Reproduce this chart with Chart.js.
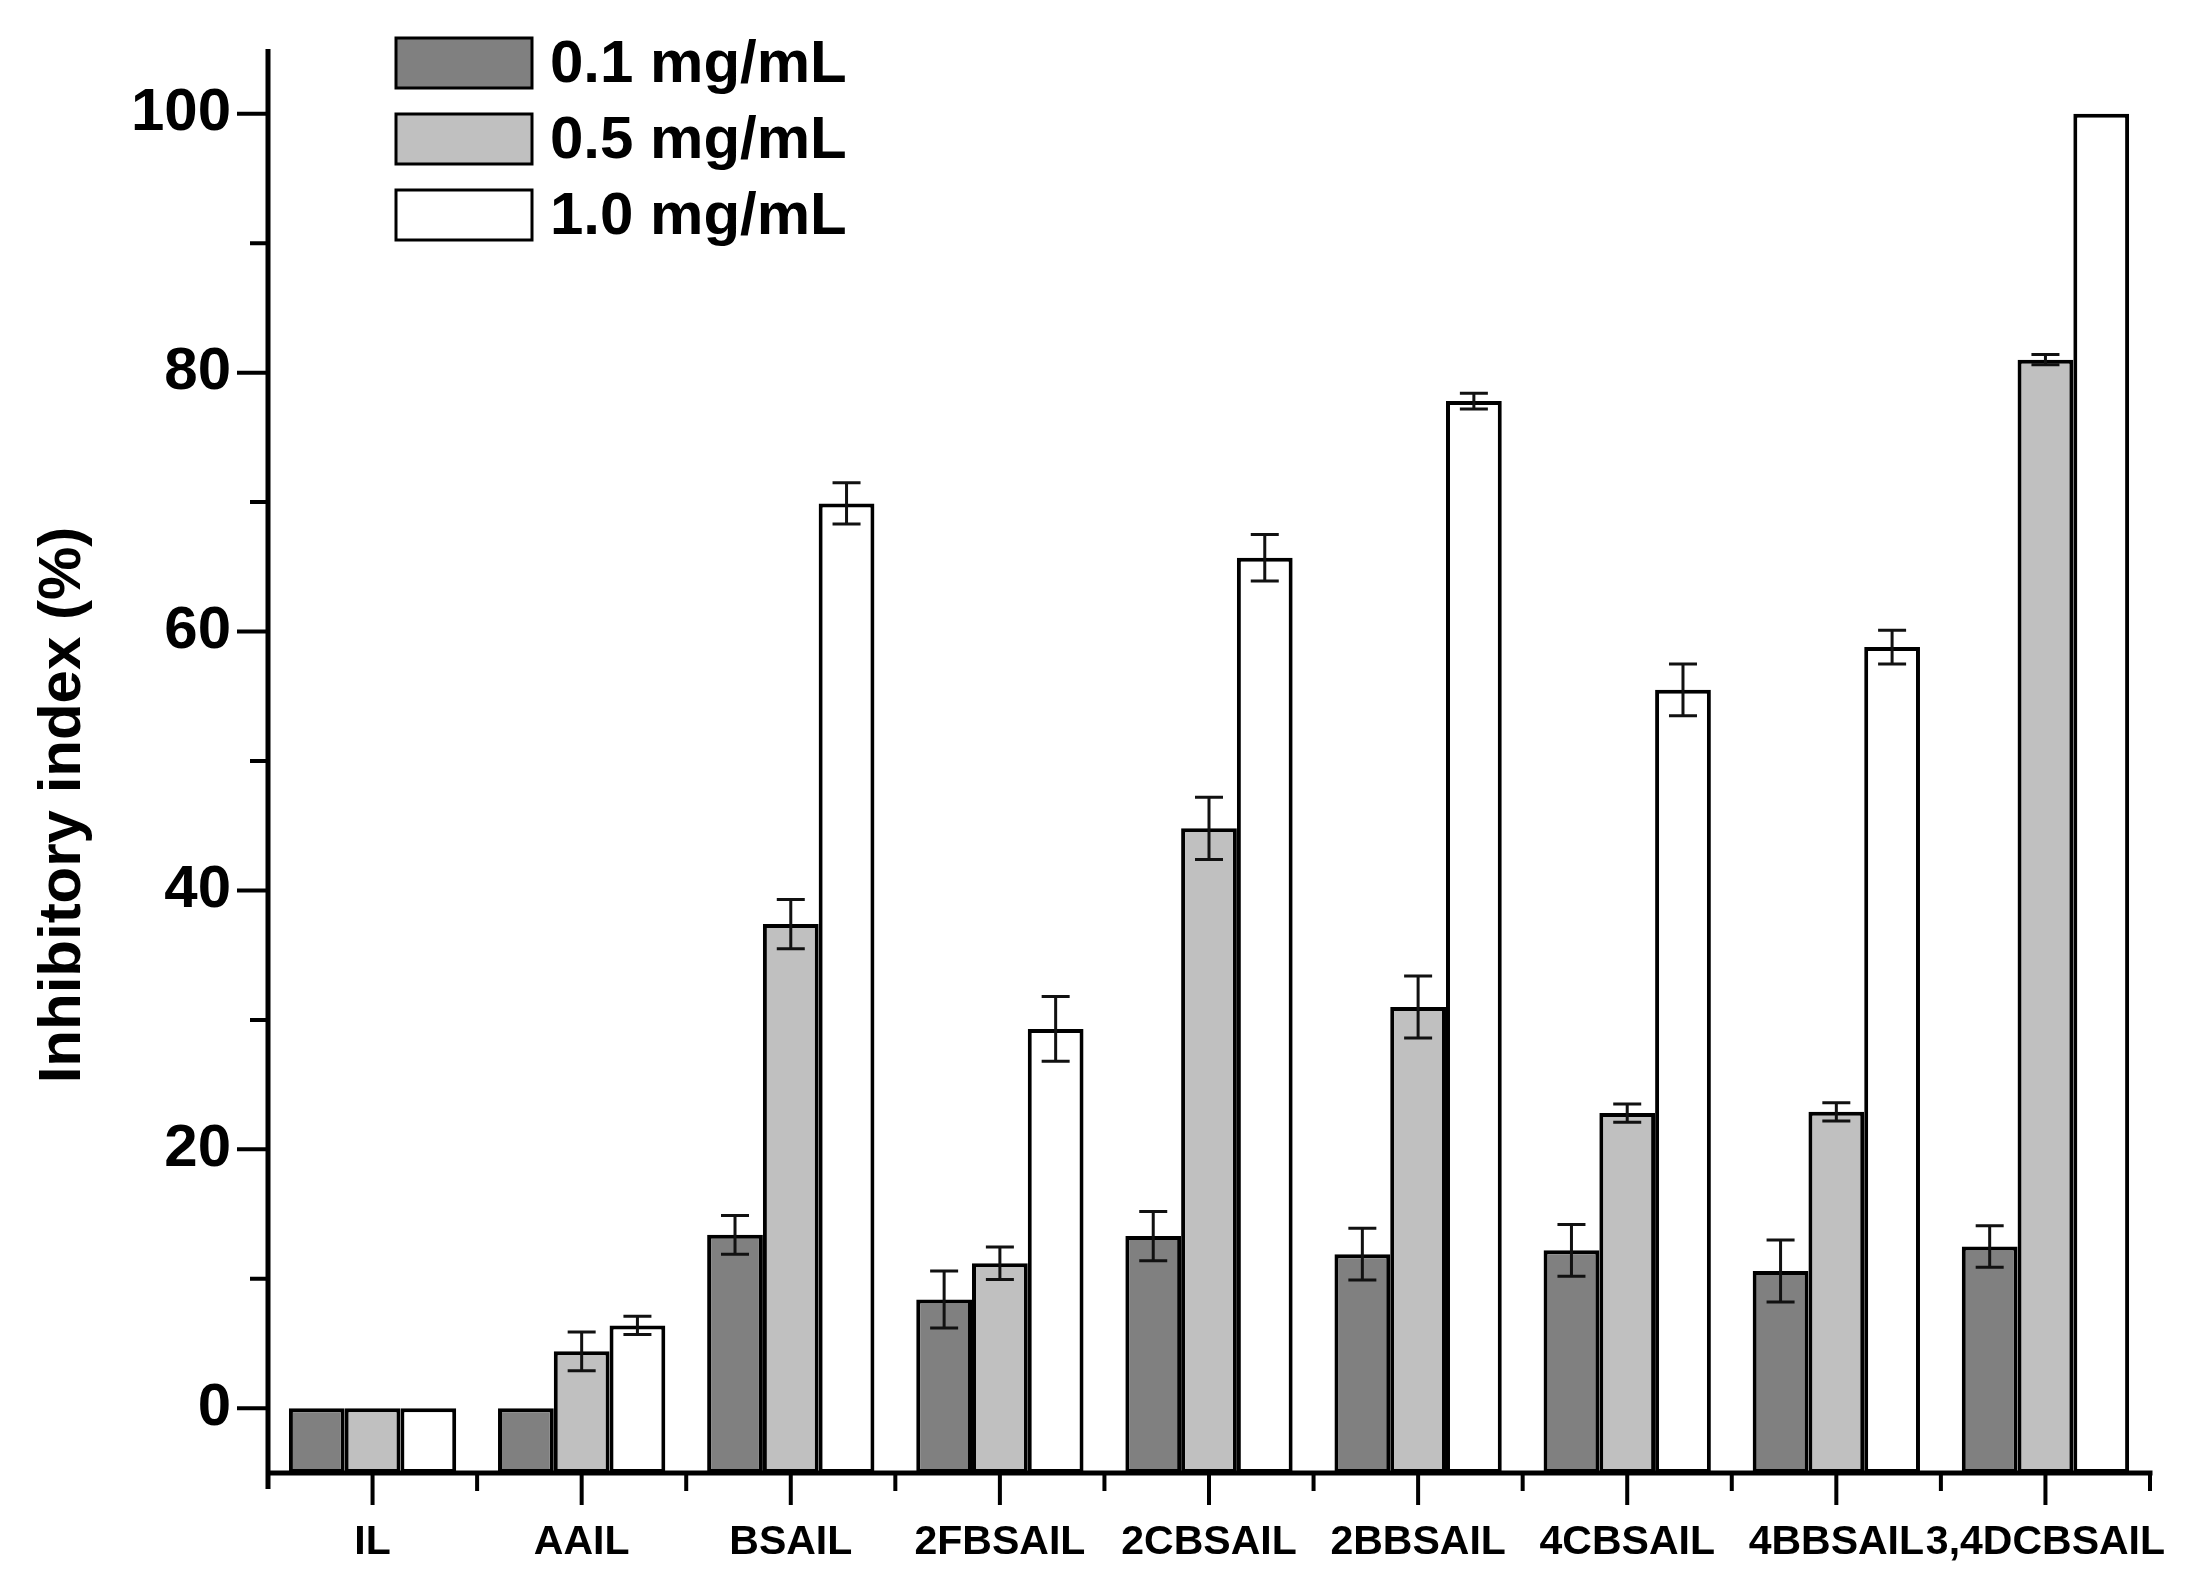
<!DOCTYPE html>
<html>
<head>
<meta charset="utf-8">
<title>Inhibitory index</title>
<script src="https://cdn.jsdelivr.net/npm/chart.js@4.4.1/dist/chart.umd.min.js"></script>
<style>
    html, body { margin: 0; padding: 0; background: #fff; }
    #wrap { width: 2185px; height: 1581px; }
</style>
</head>
<body>
<div id="wrap"><canvas id="chart" width="2185" height="1581"></canvas></div>
<script>
// categories and series
const categories = ['IL', 'AAIL', 'BSAIL', '2FBSAIL', '2CBSAIL', '2BBSAIL', '4CBSAIL', '4BBSAIL', '3,4DCBSAIL'];
const seriesLabels = ['0.1 mg/mL', '0.5 mg/mL', '1.0 mg/mL'];

const values01 = [0, 0, 13.4, 8.4, 13.3, 11.9, 12.2, 10.6, 12.5];
const errors01 = [0, 0, 1.5, 2.2, 1.9, 2.0, 2.0, 2.4, 1.6];

const values05 = [0, 4.4, 37.4, 11.2, 44.8, 31.0, 22.8, 22.9, 81.0];
const errors05 = [0, 1.5, 1.9, 1.25, 2.4, 2.4, 0.7, 0.7, 0.4];

const values10 = [0, 6.4, 69.9, 29.3, 65.7, 77.8, 55.5, 58.8, 100];
const errors10 = [0, 0.7, 1.6, 2.5, 1.8, 0.6, 2.0, 1.3, 0];

const yTicks = [0, 20, 40, 60, 80, 100];
const yMinorTicks = [10, 30, 50, 70, 90];
const yMin = -5;
const yMax = 105;
const yTitle = 'Inhibitory index (%)';

const FONT = "'Liberation Sans', Arial, sans-serif";
const barColors = ['#808080', '#c0c0c0', '#ffffff'];
const errorSets = [errors01, errors05, errors10];

// error bars on top of each bar
const errorBarPlugin = {
    id: 'errorBars',
    afterDatasetsDraw(chart) {
        const ctx = chart.ctx;
        const y = chart.scales.y;
        ctx.save();
        ctx.strokeStyle = '#111';
        ctx.lineWidth = 3;
        chart.data.datasets.forEach((ds, i) => {
            const meta = chart.getDatasetMeta(i);
            meta.data.forEach((bar, j) => {
                const e = errorSets[i][j];
                if (!e) return;
                const v = ds.data[j];
                const top = y.getPixelForValue(v + e);
                const bot = y.getPixelForValue(v - e);
                ctx.beginPath();
                ctx.moveTo(bar.x, top);
                ctx.lineTo(bar.x, bot);
                ctx.moveTo(bar.x - 14, top);
                ctx.lineTo(bar.x + 14, top);
                ctx.moveTo(bar.x - 14, bot);
                ctx.lineTo(bar.x + 14, bot);
                ctx.stroke();
            });
        });
        ctx.restore();
    }
};

// axis lines with major / minor ticks, Origin style, plus the rotated y title
const axesPlugin = {
    id: 'axesLines',
    afterDraw(chart) {
        const ctx = chart.ctx;
        const {left, right, top, bottom} = chart.chartArea;
        const x = chart.scales.x;
        const y = chart.scales.y;
        ctx.save();
        ctx.strokeStyle = '#000';
        ctx.lineWidth = 5;
        ctx.lineCap = 'butt';
        ctx.beginPath();
        ctx.moveTo(left, top);
        ctx.lineTo(left, bottom + 16);
        ctx.moveTo(left - 2.5, bottom);
        ctx.lineTo(right + 2.5, bottom);
        ctx.stroke();

        ctx.lineWidth = 4;
        ctx.beginPath();
        yTicks.forEach(v => {
            const py = y.getPixelForValue(v);
            ctx.moveTo(left, py);
            ctx.lineTo(left - 31, py);
        });
        yMinorTicks.forEach(v => {
            const py = y.getPixelForValue(v);
            ctx.moveTo(left, py);
            ctx.lineTo(left - 18, py);
        });
        const step = (right - left) / categories.length;
        categories.forEach((c, i) => {
            const px = x.getPixelForValue(i);
            ctx.moveTo(px, bottom);
            ctx.lineTo(px, bottom + 32);
        });
        for (let i = 1; i <= categories.length; i++) {
            const px = left + i * step;
            ctx.moveTo(px, bottom);
            ctx.lineTo(px, bottom + 18);
        }
        ctx.stroke();

        ctx.translate(63, 805);
        ctx.rotate(-Math.PI / 2);
        ctx.font = 'bold 60px ' + FONT;
        ctx.fillStyle = '#000';
        ctx.textAlign = 'center';
        ctx.textBaseline = 'middle';
        ctx.fillText(yTitle, 0, 0);
        ctx.restore();
    }
};

// stacked legend in the upper left of the plot
const legendPlugin = {
    id: 'boxLegend',
    afterDraw(chart) {
        const ctx = chart.ctx;
        ctx.save();
        ctx.font = 'bold 60px ' + FONT;
        ctx.textBaseline = 'middle';
        ctx.textAlign = 'left';
        chart.data.datasets.forEach((ds, i) => {
            const bx = 396, by = 38 + i * 76;
            ctx.fillStyle = ds.backgroundColor;
            ctx.fillRect(bx, by, 136, 50);
            ctx.strokeStyle = '#000';
            ctx.lineWidth = 3;
            ctx.strokeRect(bx, by, 136, 50);
            ctx.fillStyle = '#000';
            ctx.fillText(ds.label, 550, by + 27);
        });
        ctx.restore();
    }
};

const datasets = [values01, values05, values10].map((vals, i) => ({
    label: seriesLabels[i],
    data: vals,
    base: yMin,
    backgroundColor: barColors[i],
    borderColor: '#000',
    borderWidth: 4,
    borderSkipped: false,
    categoryPercentage: 0.8,
    barPercentage: 1.0
}));

new Chart(document.getElementById('chart'), {
    type: 'bar',
    data: { labels: categories, datasets: datasets },
    options: {
        responsive: false,
        devicePixelRatio: 1,
        animation: false,
        layout: { padding: { left: 0, top: 49, right: 35, bottom: 0 } },
        plugins: {
            legend: { display: false },
            tooltip: { enabled: false }
        },
        scales: {
            x: {
                grid: { display: false, drawTicks: false },
                border: { display: false },
                ticks: {
                    autoSkip: false,
                    maxRotation: 0,
                    minRotation: 0,
                    padding: 45,
                    color: '#000',
                    font: { family: FONT, size: 41, weight: 'bold' }
                },
                afterFit: s => {
                    s.height = 108;
                    s.paddingLeft = 0;
                    s.paddingRight = 0;
                }
            },
            y: {
                min: yMin,
                max: yMax,
                grid: { display: false, drawTicks: false },
                border: { display: false },
                afterBuildTicks: s => { s.ticks = yTicks.map(v => ({ value: v })); },
                ticks: {
                    padding: 37,
                    color: '#000',
                    font: { family: FONT, size: 60, weight: 'bold' }
                },
                afterFit: s => {
                    s.width = 268;
                    s.paddingTop = 0;
                    s.paddingBottom = 0;
                }
            }
        }
    },
    plugins: [errorBarPlugin, axesPlugin, legendPlugin]
});
</script>
</body>
</html>
